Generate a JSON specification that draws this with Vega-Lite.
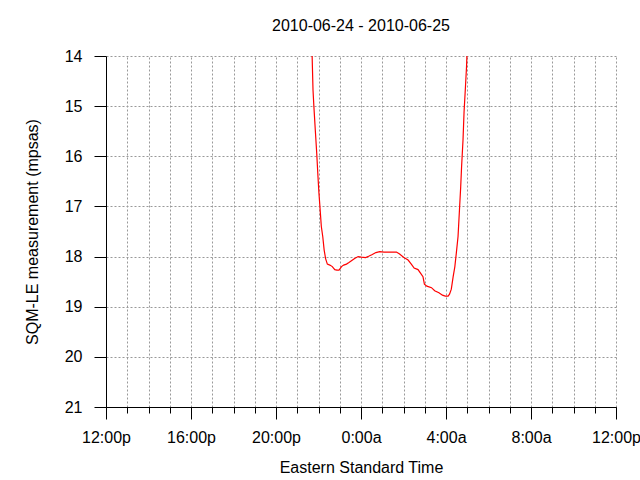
{
  "$schema": "https://vega.github.io/schema/vega-lite/v6.json",
  "width": 510,
  "height": 351,
  "autosize": {"type": "none"},
  "padding": {"left": 106, "top": 56, "right": 24, "bottom": 73},
  "background": "white",
  "config": {
    "view": {"stroke": null},
    "font": "Liberation Sans",
    "axis": {"labelFont": "Liberation Sans", "titleFont": "Liberation Sans", "labelFontSize": 16, "titleFontSize": 16, "titleFontWeight": "normal", "labelColor": "black", "titleColor": "black", "tickColor": "black", "domainColor": "black"}
  },
  "title": {"text": "2010-06-24 - 2010-06-25", "fontSize": 16, "fontWeight": "normal", "font": "Liberation Sans", "color": "black", "anchor": "middle", "baseline": "alphabetic", "offset": 1},
  "data": {"values": [
    {"t": "2010-06-24T21:42:00", "v": 14.0},
    {"t": "2010-06-24T21:44:30", "v": 14.68},
    {"t": "2010-06-24T21:47:00", "v": 15.01},
    {"t": "2010-06-24T21:51:00", "v": 15.48},
    {"t": "2010-06-24T21:55:00", "v": 15.94},
    {"t": "2010-06-24T21:58:00", "v": 16.34},
    {"t": "2010-06-24T22:01:00", "v": 16.71},
    {"t": "2010-06-24T22:04:00", "v": 17.0},
    {"t": "2010-06-24T22:08:00", "v": 17.4},
    {"t": "2010-06-24T22:12:00", "v": 17.6},
    {"t": "2010-06-24T22:16:00", "v": 17.87},
    {"t": "2010-06-24T22:20:00", "v": 18.04},
    {"t": "2010-06-24T22:25:00", "v": 18.15},
    {"t": "2010-06-24T22:32:00", "v": 18.17},
    {"t": "2010-06-24T22:39:00", "v": 18.2},
    {"t": "2010-06-24T22:46:00", "v": 18.26},
    {"t": "2010-06-24T22:52:00", "v": 18.27},
    {"t": "2010-06-24T22:58:00", "v": 18.27},
    {"t": "2010-06-24T23:05:00", "v": 18.2},
    {"t": "2010-06-24T23:11:00", "v": 18.17},
    {"t": "2010-06-24T23:19:00", "v": 18.15},
    {"t": "2010-06-24T23:26:00", "v": 18.12},
    {"t": "2010-06-24T23:34:00", "v": 18.08},
    {"t": "2010-06-24T23:42:00", "v": 18.04},
    {"t": "2010-06-24T23:52:00", "v": 18.0},
    {"t": "2010-06-25T00:01:00", "v": 18.01},
    {"t": "2010-06-25T00:13:00", "v": 18.02},
    {"t": "2010-06-25T00:23:00", "v": 17.99},
    {"t": "2010-06-25T00:32:00", "v": 17.96},
    {"t": "2010-06-25T00:42:00", "v": 17.92},
    {"t": "2010-06-25T00:53:00", "v": 17.9},
    {"t": "2010-06-25T01:05:00", "v": 17.91},
    {"t": "2010-06-25T01:21:00", "v": 17.91},
    {"t": "2010-06-25T01:40:00", "v": 17.91},
    {"t": "2010-06-25T01:49:00", "v": 17.95},
    {"t": "2010-06-25T02:01:00", "v": 18.02},
    {"t": "2010-06-25T02:13:00", "v": 18.07},
    {"t": "2010-06-25T02:22:00", "v": 18.15},
    {"t": "2010-06-25T02:30:00", "v": 18.23},
    {"t": "2010-06-25T02:41:00", "v": 18.26},
    {"t": "2010-06-25T02:49:00", "v": 18.34},
    {"t": "2010-06-25T02:55:00", "v": 18.4},
    {"t": "2010-06-25T02:59:00", "v": 18.55},
    {"t": "2010-06-25T03:06:00", "v": 18.59},
    {"t": "2010-06-25T03:19:00", "v": 18.62},
    {"t": "2010-06-25T03:28:00", "v": 18.68},
    {"t": "2010-06-25T03:40:00", "v": 18.72},
    {"t": "2010-06-25T03:50:00", "v": 18.77},
    {"t": "2010-06-25T03:58:00", "v": 18.79},
    {"t": "2010-06-25T04:06:00", "v": 18.79},
    {"t": "2010-06-25T04:10:00", "v": 18.75},
    {"t": "2010-06-25T04:15:00", "v": 18.65},
    {"t": "2010-06-25T04:20:00", "v": 18.41},
    {"t": "2010-06-25T04:25:00", "v": 18.2},
    {"t": "2010-06-25T04:29:00", "v": 17.94},
    {"t": "2010-06-25T04:34:00", "v": 17.6},
    {"t": "2010-06-25T04:38:00", "v": 17.07},
    {"t": "2010-06-25T04:41:30", "v": 16.61},
    {"t": "2010-06-25T04:44:00", "v": 16.21},
    {"t": "2010-06-25T04:48:00", "v": 15.68},
    {"t": "2010-06-25T04:51:00", "v": 15.11},
    {"t": "2010-06-25T04:55:00", "v": 14.61},
    {"t": "2010-06-25T04:58:00", "v": 14.21},
    {"t": "2010-06-25T04:59:00", "v": 14.0}
  ]},
  "resolve": {"axis": {"x": "independent"}},
  "layer": [
    {
      "mark": {"type": "line", "opacity": 0},
      "encoding": {
        "x": {"field": "t", "type": "temporal",
          "scale": {"domain": [{"year": 2010, "month": 6, "date": 24, "hours": 12}, {"year": 2010, "month": 6, "date": 25, "hours": 12}], "nice": false},
          "axis": {"orient": "bottom", "values": [
            {"year": 2010, "month": 6, "date": 24, "hours": 12}, {"year": 2010, "month": 6, "date": 24, "hours": 13}, {"year": 2010, "month": 6, "date": 24, "hours": 14}, {"year": 2010, "month": 6, "date": 24, "hours": 15},
            {"year": 2010, "month": 6, "date": 24, "hours": 16}, {"year": 2010, "month": 6, "date": 24, "hours": 17}, {"year": 2010, "month": 6, "date": 24, "hours": 18}, {"year": 2010, "month": 6, "date": 24, "hours": 19},
            {"year": 2010, "month": 6, "date": 24, "hours": 20}, {"year": 2010, "month": 6, "date": 24, "hours": 21}, {"year": 2010, "month": 6, "date": 24, "hours": 22}, {"year": 2010, "month": 6, "date": 24, "hours": 23},
            {"year": 2010, "month": 6, "date": 25, "hours": 0}, {"year": 2010, "month": 6, "date": 25, "hours": 1}, {"year": 2010, "month": 6, "date": 25, "hours": 2}, {"year": 2010, "month": 6, "date": 25, "hours": 3},
            {"year": 2010, "month": 6, "date": 25, "hours": 4}, {"year": 2010, "month": 6, "date": 25, "hours": 5}, {"year": 2010, "month": 6, "date": 25, "hours": 6}, {"year": 2010, "month": 6, "date": 25, "hours": 7},
            {"year": 2010, "month": 6, "date": 25, "hours": 8}, {"year": 2010, "month": 6, "date": 25, "hours": 9}, {"year": 2010, "month": 6, "date": 25, "hours": 10}, {"year": 2010, "month": 6, "date": 25, "hours": 11},
            {"year": 2010, "month": 6, "date": 25, "hours": 12}],
            "labels": false, "title": null, "domain": false, "tickSize": 6, "grid": true, "gridDash": [2, 2], "gridColor": "#999999", "gridOpacity": 1, "gridWidth": 1}},
        "y": {"field": "v", "type": "quantitative",
          "scale": {"domain": [14, 21], "reverse": true, "nice": false, "zero": false},
          "axis": {"values": [14, 15, 16, 17, 18, 19, 20, 21], "title": "SQM-LE measurement (mpsas)", "tickSize": 12, "labelPadding": 12, "titlePadding": 24, "grid": true, "gridDash": [2, 2], "gridColor": "#999999", "gridOpacity": 1, "gridWidth": 1}}
      }
    },
    {
      "mark": {"type": "line", "color": "#ff0000", "strokeWidth": 1.2, "clip": true},
      "encoding": {
        "x": {"field": "t", "type": "temporal",
          "axis": {"orient": "bottom", "values": [
            {"year": 2010, "month": 6, "date": 24, "hours": 12}, {"year": 2010, "month": 6, "date": 24, "hours": 16}, {"year": 2010, "month": 6, "date": 24, "hours": 20},
            {"year": 2010, "month": 6, "date": 25, "hours": 0}, {"year": 2010, "month": 6, "date": 25, "hours": 4}, {"year": 2010, "month": 6, "date": 25, "hours": 8}, {"year": 2010, "month": 6, "date": 25, "hours": 12}],
            "labelExpr": "timeFormat(datum.value, '%-H:%M') + (hours(datum.value) < 12 ? 'a' : 'p')", "title": "Eastern Standard Time", "tickSize": 12, "labelPadding": 10, "titlePadding": 14, "grid": false, "labelFlush": false, "labelOverlap": false}},
        "y": {"field": "v", "type": "quantitative"}
      }
    }
  ]
}
